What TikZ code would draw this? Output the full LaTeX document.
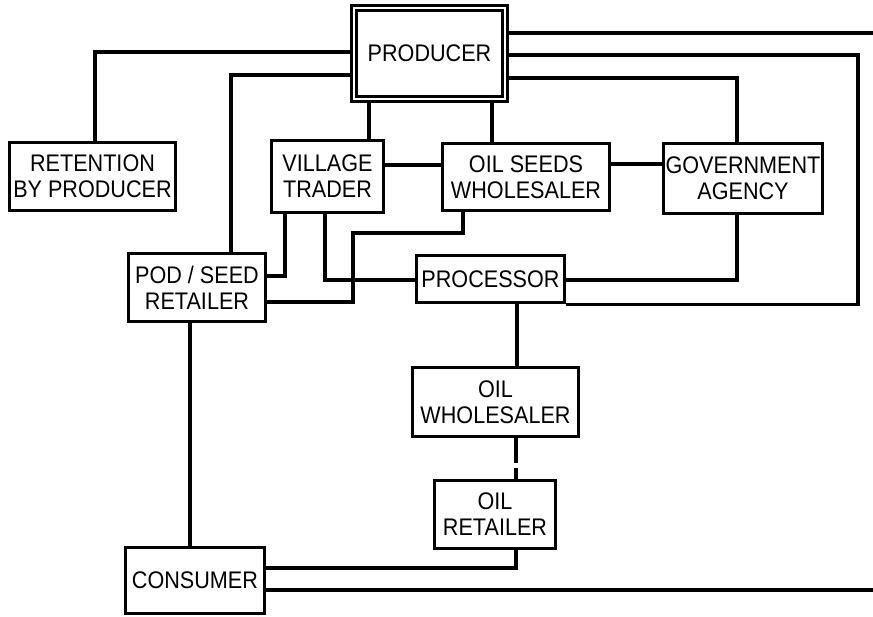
\documentclass[tikz,border=0pt]{standalone}
\usepackage{fontspec}
\setmainfont{Liberation Sans}[FakeStretch=0.9]
\begin{document}
\begin{tikzpicture}[x=1pt,y=-1pt,
  box/.style={draw,line width=3.2pt,inner sep=0pt,align=center,
    font=\fontsize{24}{26}\selectfont},
  wire/.style={draw,line width=3.2pt},
  ]
\useasboundingbox (0,0) rectangle (873,616);
\node[box,double,line width=2.8pt,double distance=2pt,minimum width=151pt,minimum height=91pt] (producer) at (429.5,53.5) {PRODUCER};
\node[box,minimum width=166pt,minimum height=68pt] (retention) at (92.5,176.5) {RETENTION\\BY PRODUCER};
\node[box,minimum width=112pt,minimum height=72pt] (village) at (327.5,176.5) {VILLAGE\\TRADER};
\node[box,minimum width=167pt,minimum height=67pt] (oilseeds) at (526,177) {OIL SEEDS\\WHOLESALER};
\node[box,minimum width=159pt,minimum height=70pt] (gov) at (743,178.5) {GOVERNMENT\\AGENCY};
\node[box,minimum width=137pt,minimum height=68pt] (pod) at (197,287.5) {POD / SEED\\RETAILER};
\node[box,minimum width=148pt,minimum height=47pt] (processor) at (490.5,279) {PROCESSOR};
\node[box,minimum width=166pt,minimum height=69pt] (oilwh) at (495.5,402) {OIL\\WHOLESALER};
\node[box,minimum width=121pt,minimum height=68pt] (oilret) at (495,514.5) {OIL\\RETAILER};
\node[box,minimum width=139pt,minimum height=66pt] (consumer) at (195,580.5) {CONSUMER};

\coordinate (e1) at (873,33);
\coordinate (e2) at (873,590);
\coordinate (c2) at (858,55);

% producer left
\path[wire] (producer.west |- 0,52) -| ([xshift=2.5pt]retention.north);
\path[wire] (producer.west |- 0,75) -| (pod.north -| 231,0);
% producer right
\path[wire] (producer.east |- e1) -- (e1);
\path[wire] (producer.east |- c2) -- (c2) -- (c2 |- processor.south) -- (processor.south east);
\path[wire] (producer.east |- 0,78) -| ([xshift=-6pt]gov.north);
% producer bottom
\path[wire] (producer.south -| 369,0) -- (village.north -| 369,0);
\path[wire] (producer.south -| 492,0) -- (oilseeds.north -| 492,0);
% middle row
\path[wire] (village.east |- 0,165) -- (oilseeds.west |- 0,165);
\path[wire] (oilseeds.east |- 0,164) -- (gov.west |- 0,164);
% village trader
\path[wire] (village.south -| 285,0) |- (pod.east |- 0,276);
\path[wire] (village.south -| 325,0) |- (processor.west |- 0,280);
% oil seeds wholesaler to pod
\path[wire] (oilseeds.south -| 463,0) |- (353,233) -- (353,302) -- (pod.east |- 0,302);
% government
\path[wire] ([xshift=-6pt]gov.south) |- (processor.east |- 0,280);
% oil chain
\path[wire] (processor.south -| 517,0) -- (oilwh.north -| 517,0);
\path[wire,dash pattern=on 25pt off 5pt on 20pt] (oilwh.south -| 516,0) -- (oilret.north -| 516,0);
\path[wire] (oilret.south -| 516,0) |- (consumer.east |- 0,568);
\path[wire] (consumer.east |- e2) -- (e2);
\path[wire] (pod.south -| 190,0) -- (consumer.north -| 190,0);
\end{tikzpicture}
\end{document}
